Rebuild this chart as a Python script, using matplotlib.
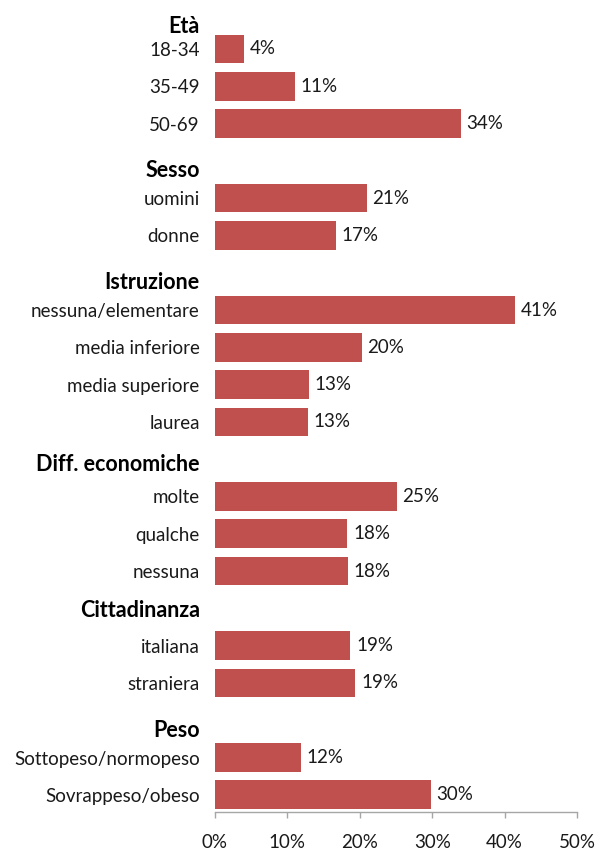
import matplotlib
matplotlib.use("Agg")
import matplotlib.pyplot as plt
import matplotlib.transforms as mtransforms
from matplotlib.ticker import FuncFormatter

# Survey shares by subgroup
groups = ["Età", "Sesso", "Istruzione", "Diff. economiche", "Cittadinanza", "Peso"]
categories = [
    ["18-34", "35-49", "50-69"],
    ["uomini", "donne"],
    ["nessuna/elementare", "media inferiore", "media superiore", "laurea"],
    ["molte", "qualche", "nessuna"],
    ["italiana", "straniera"],
    ["Sottopeso/normopeso", "Sovrappeso/obeso"],
]
values = [
    [0.040, 0.110, 0.340],
    [0.210, 0.167],
    [0.414, 0.203, 0.130, 0.128],
    [0.251, 0.183, 0.184],
    [0.187, 0.194],
    [0.119, 0.298],
]
x_ticks = [0.0, 0.1, 0.2, 0.3, 0.4, 0.5]

# vertical nudge of each group title relative to its slot
header_shift = [0.41, 0.27, 0.27, 0.13, 0.07, 0.28]

BAR = "#C0504D"
TXT = "#1a1a1a"
plt.rcParams["font.family"] = ["Lato", "DejaVu Sans"]

fig = plt.figure(figsize=(5.97, 8.5), dpi=100)
ax = fig.add_axes([215 / 597, 1 - 812 / 850, 362 / 597, (812 - 4.2) / 850])

# lay out rows: each group title takes one slot, followed by its items
y_pos, labels, vals, header_y = [], [], [], []
slot = -1
for g, (cats, vs) in enumerate(zip(categories, values)):
    header_y.append(slot + header_shift[g])
    slot += 1
    for c, v in zip(cats, vs):
        y_pos.append(slot)
        labels.append(c)
        vals.append(v)
        slot += 1

ax.barh(y_pos, vals, height=0.77, color=BAR)
for y, v in zip(y_pos, vals):
    ax.annotate(f"{v:.0%}", (v, y), xytext=(4, 0), textcoords="offset points",
                va="center", ha="left", fontsize=13.5, color=TXT)

ax.set_xlim(0, 0.5)
ax.set_ylim(20.46, -1.2)
ax.set_yticks(y_pos)
ax.set_yticklabels(labels, fontsize=13.5, color=TXT)
ax.tick_params(axis="y", length=0, pad=11)

ax.set_xticks(x_ticks)
ax.xaxis.set_major_formatter(FuncFormatter(lambda v, p: f"{v:.0%}"))
ax.tick_params(axis="x", direction="out", length=4, width=1, color="#A6A6A6",
               labelsize=13.5, labelcolor=TXT, pad=12)

for s in ["top", "right", "left"]:
    ax.spines[s].set_visible(False)
ax.spines["bottom"].set_color("#A6A6A6")
ax.spines["bottom"].set_linewidth(1)

head_tr = mtransforms.offset_copy(ax.get_yaxis_transform(), fig=fig, x=-11, y=0, units="points")
for name, y in zip(groups, header_y):
    ax.text(0, y, name, transform=head_tr, ha="right", va="center",
            fontsize=15.5, fontweight="bold", color="#000000")

fig.savefig("out.png", dpi=100)
